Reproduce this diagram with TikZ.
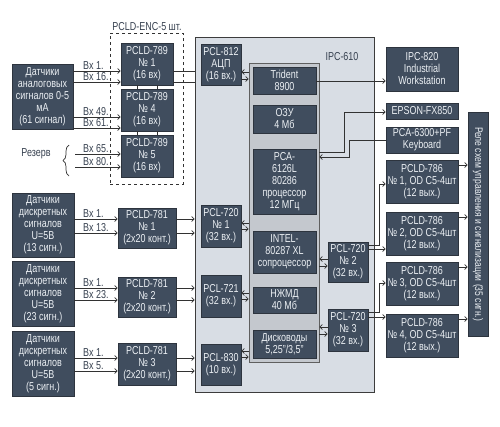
\documentclass[tikz,border=0pt]{standalone}
\usepackage{fontspec}
\setmainfont{Liberation Sans}[FakeStretch=0.78]
\usetikzlibrary{arrows.meta,decorations.pathreplacing}
\definecolor{boxfill}{RGB}{64,77,94}
\definecolor{boxedge}{RGB}{45,52,62}
\definecolor{boxtext}{RGB}{236,240,244}
\definecolor{ipcfill}{RGB}{216,221,228}
\definecolor{ipcedge}{RGB}{60,60,60}
\definecolor{colfill}{RGB}{196,200,206}
\definecolor{coledge}{RGB}{95,95,95}
\definecolor{wirecol}{RGB}{50,50,50}
\definecolor{labelcol}{RGB}{55,65,80}
\begin{document}
\begin{tikzpicture}[x=1pt,y=-1pt,font=\fontsize{11.5}{12}\selectfont,
  dbox/.style={draw=boxedge,fill=boxfill,text=boxtext,align=center,inner sep=0pt,line width=0.8pt},
  wire/.style={draw=wirecol,line width=0.7pt},
  arr/.style={wire,-{Straight Barb[length=2.5pt,width=5pt]}},
  lbl/.style={text=labelcol,inner sep=0pt}]
\useasboundingbox[fill=white] (0,0) rectangle (500,426);

% IPC-610 frame and inner column
\node[draw=ipcedge,fill=ipcfill,line width=0.9pt,minimum width=179pt,minimum height=355pt,inner sep=0pt] (ipc) at (284.5,214.5) {};
\node[lbl] (ipclbl) at (342,57) {IPC-610};
\node[draw=coledge,fill=colfill,line width=0.8pt,minimum width=70pt,minimum height=299pt,inner sep=0pt] (col) at (284,212.5) {};

% dashed encoder frame
\node[draw=wirecol,dashed,line width=0.7pt,minimum width=73pt,minimum height=151pt,inner sep=0pt] (enc) at (146.5,108.5) {};
\node[lbl] (enclbl) at (147,27) {PCLD-ENC-5 шт.};

% left analog part
\node[dbox,minimum width=61pt,minimum height=65pt] (sa) at (42.5,96.5) {Датчики\\аналоговых\\сигналов 0-5\\мА\\(61 сигнал)};
\node[dbox,minimum width=52pt,minimum height=42pt] (p1) at (147,64) {PCLD-789\\№ 1\\(16 вх)};
\node[dbox,minimum width=52pt,minimum height=42pt] (p4) at (147,110) {PCLD-789\\№ 4\\(16 вх)};
\node[dbox,minimum width=52pt,minimum height=42pt] (p5) at (147,156) {PCLD-789\\№ 5\\(16 вх)};
\draw[wire] (p1.south -| 137,0) -- (p4.north -| 137,0);
\draw[wire] (p1.south -| 157,0) -- (p4.north -| 157,0);
\draw[wire] (p4.south -| 137,0) -- (p5.north -| 137,0);
\draw[wire] (p4.south -| 157,0) -- (p5.north -| 157,0);

\draw[arr] (sa.east |- 0,71) -- (p1.west |- 0,71);
\draw[arr] (sa.east |- 0,82) -- (p1.west |- 0,82);
\draw[arr] (sa.east |- 0,117) -- (p4.west |- 0,117);
\draw[arr] (sa.east |- 0,128) -- (p4.west |- 0,128);
\coordinate (rs1) at (75,154);
\coordinate (rs2) at (75,167);
\draw[arr] (rs1) -- (p5.west |- rs1);
\draw[arr] (rs2) -- (p5.west |- rs2);
\node[lbl,anchor=south west] (a1) at (83,70) {Вх 1.};
\node[lbl,anchor=south west] (a2) at (83,81) {Вх 16.};
\node[lbl,anchor=south west] (a3) at (83,116) {Вх 49.};
\node[lbl,anchor=south west] (a4) at (83,127) {Вх 61.};
\node[lbl,anchor=south west] (a5) at (83,153) {Вх 65.};
\node[lbl,anchor=south west] (a6) at (83,166) {Вх 80.};
\node[lbl] (rez) at (36,154) {Резерв};
\coordinate (br1) at (69,176);
\coordinate (br2) at (69,145);
\draw[wire,decorate,decoration={brace,amplitude=6pt}] (br1) -- (br2);

\draw[wire] (p1.east |- 0,71) -- (ipc.west |- 0,71);
\draw[wire] (p1.east |- 0,82) -- (ipc.west |- 0,82);

% PCL boards inside IPC
\node[dbox,minimum width=40pt,minimum height=41pt] (pcl812) at (221,64.5) {PCL-812\\АЦП\\(16 вх.)};
\node[dbox,minimum width=40pt,minimum height=42pt] (pcl720a) at (221,226) {PCL-720\\№ 1\\(32 вх.)};
\node[dbox,minimum width=40pt,minimum height=42pt] (pcl721) at (221,296) {PCL-721\\(32 вх.)};
\node[dbox,minimum width=40pt,minimum height=41pt] (pcl830) at (221,364.5) {PCL-830\\(10 вх.)};
\node[dbox,minimum width=40pt,minimum height=40pt] (pcl720b) at (348,262) {PCL-720\\№ 2\\(32 вх.)};
\node[dbox,minimum width=40pt,minimum height=42pt] (pcl720c) at (348,330) {PCL-720\\№ 3\\(32 вх.)};

% inner column modules
\node[dbox,minimum width=63pt,minimum height=27pt] (trid) at (284.5,80.5) {Trident\\8900};
\node[dbox,minimum width=63pt,minimum height=28pt] (ozu) at (284.5,119) {ОЗУ\\4 Мб};
\node[dbox,minimum width=63pt,minimum height=65pt] (pca) at (284.5,181.5) {PCA-\\6126L\\80286\\процессор\\12 МГц};
\node[dbox,minimum width=63pt,minimum height=42pt] (intel) at (284.5,252) {INTEL-\\80287 XL\\сопроцессор};
\node[dbox,minimum width=63pt,minimum height=26pt] (hdd) at (284.5,300) {НЖМД\\40 Мб};
\node[dbox,minimum width=63pt,minimum height=28pt] (fdd) at (284.5,344) {Дисководы\\5,25"/3,5"};

% bus arrows
\draw[arr] (col.west |- 0,72) -- (pcl812.east |- 0,72);
\draw[arr] (pcl812.east |- 0,79) -- (col.west |- 0,79);
\draw[arr] (col.west |- 0,223) -- (pcl720a.east |- 0,223);
\draw[arr] (pcl720a.east |- 0,229) -- (col.west |- 0,229);
\draw[arr] (col.west |- 0,293) -- (pcl721.east |- 0,293);
\draw[arr] (pcl721.east |- 0,299) -- (col.west |- 0,299);
\draw[arr] (col.west |- 0,351) -- (pcl830.east |- 0,351);
\draw[arr] (pcl830.east |- 0,357) -- (col.west |- 0,357);
\draw[arr] (pcl720b.west |- 0,259) -- (col.east |- 0,259);
\draw[arr] (col.east |- 0,266) -- (pcl720b.west |- 0,266);
\draw[arr] (pcl720c.west |- 0,327) -- (col.east |- 0,327);
\draw[arr] (col.east |- 0,334) -- (pcl720c.west |- 0,334);

% discrete inputs
\node[dbox,minimum width=62pt,minimum height=64pt] (d1) at (43,225) {Датчики\\дискретных\\сигналов\\U=5В\\(13 сигн.)};
\node[dbox,minimum width=62pt,minimum height=65pt] (d2) at (43,293.5) {Датчики\\дискретных\\сигналов\\U=5В\\(23 сигн.)};
\node[dbox,minimum width=62pt,minimum height=65pt] (d3) at (43,363.5) {Датчики\\дискретных\\сигналов\\U=5В\\(5 сигн.)};
\node[dbox,minimum width=58pt,minimum height=40pt] (r1) at (147,228) {PCLD-781\\№ 1\\(2х20 конт.)};
\node[dbox,minimum width=58pt,minimum height=40pt] (r2) at (147,297) {PCLD-781\\№ 2\\(2х20 конт.)};
\node[dbox,minimum width=58pt,minimum height=42pt] (r3) at (147,364) {PCLD-781\\№ 3\\(2х20 конт.)};

\foreach \y in {219,233}{\draw[arr] (d1.east |- 0,\y) -- (r1.west |- 0,\y); \draw[arr] (r1.east |- 0,\y) -- (ipc.west |- 0,\y);}
\foreach \y in {288,300}{\draw[arr] (d2.east |- 0,\y) -- (r2.west |- 0,\y); \draw[arr] (r2.east |- 0,\y) -- (ipc.west |- 0,\y);}
\foreach \y in {358,371}{\draw[arr] (d3.east |- 0,\y) -- (r3.west |- 0,\y); \draw[arr] (r3.east |- 0,\y) -- (ipc.west |- 0,\y);}
\node[lbl,anchor=south west] (b1) at (83,218) {Вх 1.};
\node[lbl,anchor=south west] (b2) at (83,232) {Вх 13.};
\node[lbl,anchor=south west] (b3) at (83,287) {Вх 1.};
\node[lbl,anchor=south west] (b4) at (83,299) {Вх 23.};
\node[lbl,anchor=south west] (b5) at (83,357) {Вх 1.};
\node[lbl,anchor=south west] (b6) at (83,370) {Вх 5.};

% right side
\node[dbox,minimum width=72pt,minimum height=44pt] (w820) at (422,69) {IPC-820\\Industrial\\Workstation};
\node[dbox,minimum width=72pt,minimum height=16pt] (epson) at (422,111) {EPSON-FX850};
\node[dbox,minimum width=72pt,minimum height=26pt] (kbd) at (422,140) {PCA-6300+PF\\Keyboard};
\node[dbox,minimum width=72pt,minimum height=43pt] (o1) at (422,181.5) {PCLD-786\\№ 1, OD C5-4шт\\(12 вых.)};
\node[dbox,minimum width=72pt,minimum height=43pt] (o2) at (422,233.5) {PCLD-786\\№ 2, OD C5-4шт\\(12 вых.)};
\node[dbox,minimum width=72pt,minimum height=43pt] (o3) at (422,283.5) {PCLD-786\\№ 3, OD C5-4шт\\(12 вых.)};
\node[dbox,minimum width=72pt,minimum height=43pt] (o4) at (422,335.5) {PCLD-786\\№ 4, OD C5-4шт\\(12 вых.)};
\node[dbox,minimum width=20pt,minimum height=224pt] (relay) at (478,224) {};
\node[text=boxtext,rotate=-90,inner sep=0pt,font=\fontsize{11}{12}\selectfont] (relaytxt) at (relay.center) {Реле схем управления и сигнализации (35 сигн.)};

\draw[arr] (trid.east |- 0,81) -- (w820.west |- 0,81);
\draw[arr] (col.east |- 0,152) -- (344,152) -- (344,112) -- (epson.west |- 0,112);
\draw[arr] (kbd.west |- 0,140) -- (349,140) -- (349,157) -- (col.east |- 0,157);
\draw[arr] (pcl720b.east |- 0,245) -- (379,245) -- (379,184) -- (o1.west |- 0,184);
\draw[arr] (pcl720b.east |- 0,249) -- (o2.west |- 0,249);
\draw[arr] (pcl720c.east |- 0,312) -- (379,312) -- (379,283) -- (o3.west |- 0,283);
\draw[arr] (pcl720c.east |- 0,317) -- (o4.west |- 0,317);
\foreach \o/\y in {o1/165,o2/217,o3/267,o4/319}{\draw[arr] (\o.east |- 0,\y) -- (relay.west |- 0,\y);}
\end{tikzpicture}
\end{document}
